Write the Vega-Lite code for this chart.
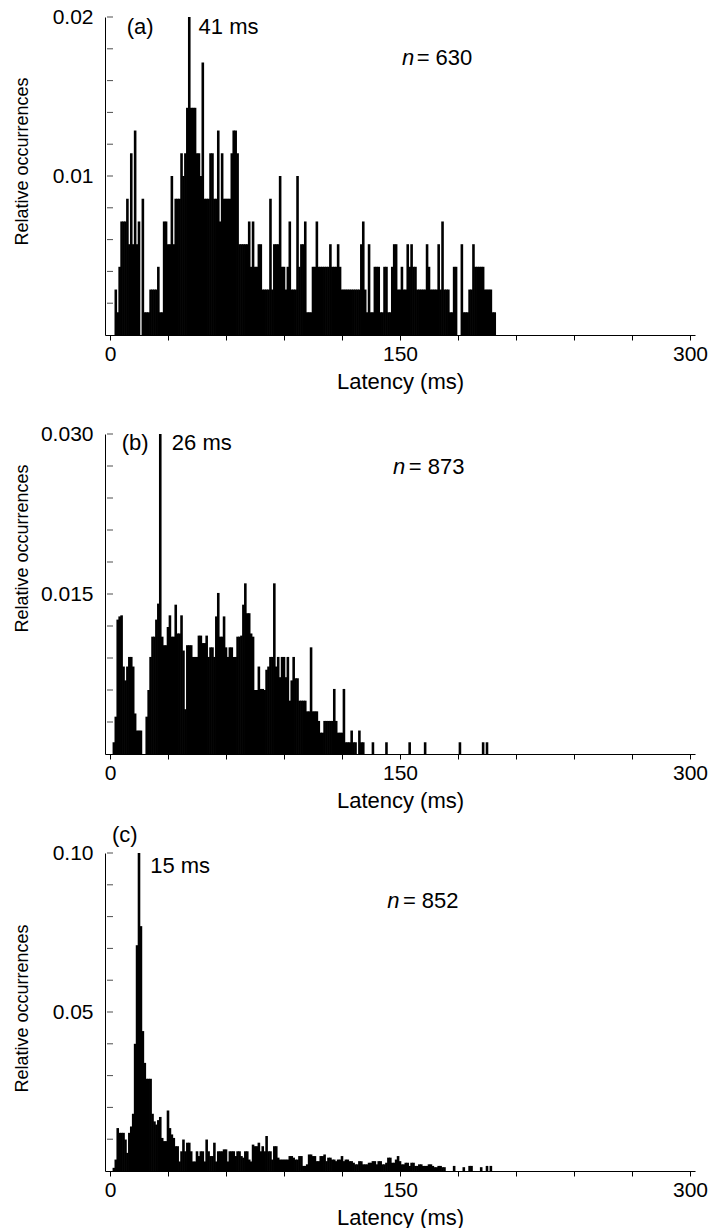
{
"$schema": "https://vega.github.io/schema/vega-lite/v6.json",
"padding": {"left": 13, "top": 6, "right": 0, "bottom": 0},
"background": "white",
"spacing": 99,
"bounds": "flush",
"config": {
  "font": "Liberation Sans",
  "view": {"stroke": null},
  "axis": {"grid": false, "domainColor": "#000", "tickColor": "#000", "labelColor": "#000", "titleColor": "#000", "titleFontWeight": "normal", "labelFontSize": 21, "titleFontSize": 22, "tickSize": 5, "labelOverlap": false, "labelFlush": false, "labelBound": false},
  "axisX": {"labelPadding": 3, "titlePadding": 7},
  "axisY": {"labelPadding": 12, "tickSize": 0, "titleFontSize": 18, "titleX": -92, "titleBaseline": "top", "titleAngle": 270},
  "tick": {"orient": "horizontal", "size": 6, "thickness": 1, "color": "#000"}
},
"vconcat": [
{
  "width": 590, "height": 318,
  "layer": [
    {
      "data": {"values": [
{"x":3,"y":0.00286},{"x":4,"y":0.00143},{"x":5,"y":0.00429},{"x":6,"y":0.00714},{"x":7,"y":0.00714},{"x":8,"y":0.00714},{"x":9,"y":0.00857},{"x":10,"y":0.00571},{"x":11,"y":0.01143},{"x":12,"y":0.00571},{"x":13,"y":0.01286},{"x":14,"y":0.00571},{"x":15,"y":0.00714},{"x":17,"y":0.00857},{"x":18,"y":0.00143},{"x":19,"y":0.00143},{"x":20,"y":0.00143},{"x":21,"y":0.00286},{"x":22,"y":0.00286},{"x":23,"y":0.00286},{"x":24,"y":0.00286},{"x":25,"y":0.00429},{"x":26,"y":0.00143},{"x":27,"y":0.00143},{"x":28,"y":0.00714},{"x":29,"y":0.00714},{"x":30,"y":0.00571},{"x":31,"y":0.00571},{"x":32,"y":0.01},{"x":33,"y":0.00571},{"x":34,"y":0.00857},{"x":35,"y":0.00857},{"x":36,"y":0.00857},{"x":37,"y":0.01143},{"x":38,"y":0.01},{"x":39,"y":0.01143},{"x":40,"y":0.01429},{"x":41,"y":0.02},{"x":42,"y":0.01429},{"x":43,"y":0.01429},{"x":44,"y":0.01429},{"x":45,"y":0.01143},{"x":46,"y":0.01143},{"x":47,"y":0.01},{"x":48,"y":0.01714},{"x":49,"y":0.00857},{"x":50,"y":0.00857},{"x":51,"y":0.00857},{"x":52,"y":0.01143},{"x":53,"y":0.01143},{"x":54,"y":0.00857},{"x":55,"y":0.00857},{"x":56,"y":0.01286},{"x":57,"y":0.00714},{"x":58,"y":0.01143},{"x":59,"y":0.00857},{"x":60,"y":0.00857},{"x":61,"y":0.00857},{"x":62,"y":0.00857},{"x":63,"y":0.01143},{"x":64,"y":0.01286},{"x":65,"y":0.01286},{"x":66,"y":0.01143},{"x":67,"y":0.00571},{"x":68,"y":0.00571},{"x":69,"y":0.00571},{"x":70,"y":0.00571},{"x":71,"y":0.00571},{"x":72,"y":0.00714},{"x":73,"y":0.00429},{"x":74,"y":0.00714},{"x":75,"y":0.00429},{"x":76,"y":0.00429},{"x":77,"y":0.00571},{"x":78,"y":0.00571},{"x":79,"y":0.00286},{"x":80,"y":0.00286},{"x":81,"y":0.00286},{"x":82,"y":0.00286},{"x":83,"y":0.00857},{"x":84,"y":0.00286},{"x":85,"y":0.00571},{"x":86,"y":0.00571},{"x":87,"y":0.00571},{"x":88,"y":0.01},{"x":89,"y":0.00429},{"x":90,"y":0.00429},{"x":91,"y":0.00286},{"x":92,"y":0.00429},{"x":93,"y":0.00714},{"x":94,"y":0.00286},{"x":95,"y":0.00286},{"x":96,"y":0.00286},{"x":97,"y":0.01},{"x":98,"y":0.00429},{"x":99,"y":0.00571},{"x":100,"y":0.00571},{"x":101,"y":0.00714},{"x":102,"y":0.00143},{"x":103,"y":0.00143},{"x":104,"y":0.00143},{"x":105,"y":0.00429},{"x":106,"y":0.00429},{"x":107,"y":0.00714},{"x":108,"y":0.00429},{"x":109,"y":0.00429},{"x":110,"y":0.00429},{"x":111,"y":0.00429},{"x":112,"y":0.00429},{"x":113,"y":0.00429},{"x":114,"y":0.00571},{"x":115,"y":0.00429},{"x":116,"y":0.00429},{"x":117,"y":0.00429},{"x":118,"y":0.00571},{"x":119,"y":0.00429},{"x":120,"y":0.00286},{"x":121,"y":0.00286},{"x":122,"y":0.00286},{"x":123,"y":0.00286},{"x":124,"y":0.00286},{"x":125,"y":0.00286},{"x":126,"y":0.00286},{"x":127,"y":0.00286},{"x":128,"y":0.00286},{"x":129,"y":0.00286},{"x":130,"y":0.00571},{"x":131,"y":0.00714},{"x":132,"y":0.00286},{"x":133,"y":0.00143},{"x":134,"y":0.00571},{"x":135,"y":0.00143},{"x":136,"y":0.00143},{"x":137,"y":0.00429},{"x":138,"y":0.00429},{"x":139,"y":0.00429},{"x":140,"y":0.00143},{"x":141,"y":0.00143},{"x":142,"y":0.00429},{"x":143,"y":0.00429},{"x":144,"y":0.00143},{"x":145,"y":0.00143},{"x":146,"y":0.00429},{"x":147,"y":0.00571},{"x":148,"y":0.00571},{"x":149,"y":0.00286},{"x":150,"y":0.00286},{"x":151,"y":0.00429},{"x":152,"y":0.00286},{"x":153,"y":0.00286},{"x":154,"y":0.00571},{"x":155,"y":0.00429},{"x":156,"y":0.00571},{"x":157,"y":0.00429},{"x":158,"y":0.00429},{"x":159,"y":0.00286},{"x":160,"y":0.00286},{"x":161,"y":0.00286},{"x":162,"y":0.00286},{"x":163,"y":0.00286},{"x":164,"y":0.00571},{"x":165,"y":0.00429},{"x":166,"y":0.00286},{"x":167,"y":0.00286},{"x":168,"y":0.00286},{"x":169,"y":0.00286},{"x":170,"y":0.00571},{"x":171,"y":0.00286},{"x":172,"y":0.00714},{"x":173,"y":0.00286},{"x":174,"y":0.00286},{"x":175,"y":0.00286},{"x":176,"y":0.00143},{"x":177,"y":0.00143},{"x":178,"y":0.00429},{"x":179,"y":0.00429},{"x":182,"y":0.00571},{"x":183,"y":0.00143},{"x":184,"y":0.00143},{"x":185,"y":0.00143},{"x":186,"y":0.00286},{"x":187,"y":0.00286},{"x":188,"y":0.00571},{"x":189,"y":0.00429},{"x":190,"y":0.00429},{"x":191,"y":0.00429},{"x":192,"y":0.00429},{"x":193,"y":0.00429},{"x":194,"y":0.00286},{"x":195,"y":0.00286},{"x":196,"y":0.00286},{"x":197,"y":0.00286},{"x":198,"y":0.00143},{"x":199,"y":0.00143}
      ]},
      "mark": {"type": "bar", "color": "#000", "size": 2.6},
      "encoding": {
        "x": {"field": "x", "type": "quantitative", "scale": {"domain": [0, 300], "nice": false}, "axis": {"title": "Latency (ms)", "values": [0,30,60,90,120,150,180,210,240,270,300], "labelExpr": "datum.value == 0 || datum.value == 150 || datum.value == 300 ? datum.label : ''"}},
        "y": {"field": "y", "type": "quantitative", "scale": {"domain": [0, 0.02], "nice": false}, "axis": {"title": "Relative occurrences", "titleY": 144, "values": [0.01, 0.02], "format": ".2f"}}
      }
    },
    {
      "data": {"values": [{"y":0.002},{"y":0.004},{"y":0.006},{"y":0.008},{"y":0.01},{"y":0.012},{"y":0.014},{"y":0.016},{"y":0.018},{"y":0.02}]},
      "mark": {"type": "tick"},
      "encoding": {"x": {"datum": 0, "type": "quantitative"}, "y": {"field": "y", "type": "quantitative"}}
    },
    {
      "data": {"values": [{"x": 8.6, "y": 0.0194, "t": "(a)"}, {"x": 45.8, "y": 0.0194, "t": "41 ms"}, {"x": 158.6, "y": 0.0174, "t": "= 630"}]},
      "mark": {"type": "text", "fontSize": 22, "align": "left", "baseline": "middle", "color": "#000"},
      "encoding": {"x": {"field": "x", "type": "quantitative"}, "y": {"field": "y", "type": "quantitative"}, "text": {"field": "t"}}
    },
    {
      "data": {"values": [{"x": 151.0, "y": 0.0174, "t": "n"}]},
      "mark": {"type": "text", "fontSize": 22, "fontStyle": "italic", "align": "left", "baseline": "middle", "color": "#000"},
      "encoding": {"x": {"field": "x", "type": "quantitative"}, "y": {"field": "y", "type": "quantitative"}, "text": {"field": "t"}}
    }
  ]
},
{
  "width": 590, "height": 320,
  "layer": [
    {
      "data": {"values": [
{"x":2,"y":0.0011},{"x":3,"y":0.0035},{"x":4,"y":0.0126},{"x":5,"y":0.0129},{"x":6,"y":0.013},{"x":7,"y":0.0082},{"x":8,"y":0.0069},{"x":9,"y":0.0082},{"x":10,"y":0.0091},{"x":11,"y":0.0091},{"x":12,"y":0.0082},{"x":13,"y":0.0038},{"x":14,"y":0.0022},{"x":15,"y":0.0022},{"x":16,"y":0.0022},{"x":19,"y":0.0035},{"x":20,"y":0.006},{"x":21,"y":0.0091},{"x":22,"y":0.011},{"x":23,"y":0.011},{"x":24,"y":0.0126},{"x":25,"y":0.0141},{"x":26,"y":0.03},{"x":27,"y":0.011},{"x":28,"y":0.0102},{"x":29,"y":0.0102},{"x":30,"y":0.0119},{"x":31,"y":0.013},{"x":32,"y":0.011},{"x":33,"y":0.011},{"x":34,"y":0.014},{"x":35,"y":0.0113},{"x":36,"y":0.0113},{"x":37,"y":0.013},{"x":38,"y":0.0097},{"x":39,"y":0.0042},{"x":40,"y":0.0102},{"x":41,"y":0.0102},{"x":42,"y":0.0102},{"x":43,"y":0.0091},{"x":44,"y":0.0091},{"x":45,"y":0.0091},{"x":46,"y":0.0111},{"x":47,"y":0.0111},{"x":48,"y":0.0104},{"x":49,"y":0.0104},{"x":50,"y":0.0111},{"x":51,"y":0.0091},{"x":52,"y":0.01},{"x":53,"y":0.01},{"x":54,"y":0.0091},{"x":55,"y":0.0129},{"x":56,"y":0.0151},{"x":57,"y":0.011},{"x":58,"y":0.011},{"x":59,"y":0.0129},{"x":60,"y":0.01},{"x":61,"y":0.0091},{"x":62,"y":0.01},{"x":63,"y":0.01},{"x":64,"y":0.0091},{"x":65,"y":0.0091},{"x":66,"y":0.011},{"x":67,"y":0.011},{"x":68,"y":0.0111},{"x":69,"y":0.014},{"x":70,"y":0.016},{"x":71,"y":0.0132},{"x":72,"y":0.0132},{"x":73,"y":0.0113},{"x":74,"y":0.011},{"x":75,"y":0.006},{"x":76,"y":0.006},{"x":77,"y":0.0082},{"x":78,"y":0.0061},{"x":79,"y":0.0061},{"x":80,"y":0.006},{"x":81,"y":0.0079},{"x":82,"y":0.0082},{"x":83,"y":0.0091},{"x":84,"y":0.0091},{"x":85,"y":0.016},{"x":86,"y":0.0082},{"x":87,"y":0.0091},{"x":88,"y":0.0072},{"x":89,"y":0.0091},{"x":90,"y":0.0091},{"x":91,"y":0.0072},{"x":92,"y":0.0091},{"x":93,"y":0.005},{"x":94,"y":0.0069},{"x":95,"y":0.0091},{"x":96,"y":0.0071},{"x":97,"y":0.0071},{"x":98,"y":0.005},{"x":99,"y":0.005},{"x":100,"y":0.005},{"x":101,"y":0.005},{"x":102,"y":0.004},{"x":103,"y":0.004},{"x":104,"y":0.01},{"x":105,"y":0.004},{"x":106,"y":0.004},{"x":107,"y":0.004},{"x":108,"y":0.0031},{"x":109,"y":0.002},{"x":110,"y":0.002},{"x":111,"y":0.0031},{"x":112,"y":0.0031},{"x":113,"y":0.0031},{"x":114,"y":0.0031},{"x":115,"y":0.0031},{"x":116,"y":0.0061},{"x":117,"y":0.0031},{"x":118,"y":0.002},{"x":119,"y":0.002},{"x":120,"y":0.002},{"x":121,"y":0.0061},{"x":122,"y":0.0011},{"x":123,"y":0.0011},{"x":124,"y":0.0011},{"x":125,"y":0.0022},{"x":126,"y":0.0011},{"x":127,"y":0.0011},{"x":129,"y":0.0022},{"x":130,"y":0.0011},{"x":131,"y":0.0011},{"x":136,"y":0.0011},{"x":143,"y":0.0011},{"x":155,"y":0.0011},{"x":163,"y":0.0011},{"x":181,"y":0.0011},{"x":193,"y":0.0011},{"x":195,"y":0.0011}
      ]},
      "mark": {"type": "bar", "color": "#000", "size": 2.6},
      "encoding": {
        "x": {"field": "x", "type": "quantitative", "scale": {"domain": [0, 300], "nice": false}, "axis": {"title": "Latency (ms)", "values": [0,30,60,90,120,150,180,210,240,270,300], "labelExpr": "datum.value == 0 || datum.value == 150 || datum.value == 300 ? datum.label : ''"}},
        "y": {"field": "y", "type": "quantitative", "scale": {"domain": [0, 0.03], "nice": false}, "axis": {"title": "Relative occurrences", "titleY": 114, "values": [0.015, 0.03], "format": ".3f"}}
      }
    },
    {
      "data": {"values": [{"y":0.003},{"y":0.006},{"y":0.009},{"y":0.012},{"y":0.015},{"y":0.018},{"y":0.021},{"y":0.024},{"y":0.027},{"y":0.03}]},
      "mark": {"type": "tick"},
      "encoding": {"x": {"datum": 0, "type": "quantitative"}, "y": {"field": "y", "type": "quantitative"}}
    },
    {
      "data": {"values": [{"x": 6.1, "y": 0.0292, "t": "(b)"}, {"x": 32.0, "y": 0.0292, "t": "26 ms"}, {"x": 154.5, "y": 0.0269, "t": "= 873"}]},
      "mark": {"type": "text", "fontSize": 22, "align": "left", "baseline": "middle", "color": "#000"},
      "encoding": {"x": {"field": "x", "type": "quantitative"}, "y": {"field": "y", "type": "quantitative"}, "text": {"field": "t"}}
    },
    {
      "data": {"values": [{"x": 146.4, "y": 0.0269, "t": "n"}]},
      "mark": {"type": "text", "fontSize": 22, "fontStyle": "italic", "align": "left", "baseline": "middle", "color": "#000"},
      "encoding": {"x": {"field": "x", "type": "quantitative"}, "y": {"field": "y", "type": "quantitative"}, "text": {"field": "t"}}
    }
  ]
},
{
  "width": 590, "height": 318,
  "layer": [
    {
      "data": {"values": [
{"x":2,"y":0.001},{"x":3,"y":0.0036},{"x":4,"y":0.0135},{"x":5,"y":0.012},{"x":6,"y":0.012},{"x":7,"y":0.012},{"x":8,"y":0.0099},{"x":9,"y":0.0057},{"x":10,"y":0.012},{"x":11,"y":0.014},{"x":12,"y":0.018},{"x":13,"y":0.04},{"x":14,"y":0.071},{"x":15,"y":0.1},{"x":16,"y":0.077},{"x":17,"y":0.044},{"x":18,"y":0.034},{"x":19,"y":0.029},{"x":20,"y":0.029},{"x":21,"y":0.029},{"x":22,"y":0.018},{"x":23,"y":0.0156},{"x":24,"y":0.0146},{"x":25,"y":0.016},{"x":26,"y":0.017},{"x":27,"y":0.0104},{"x":28,"y":0.0094},{"x":29,"y":0.0094},{"x":30,"y":0.019},{"x":31,"y":0.0135},{"x":32,"y":0.0115},{"x":33,"y":0.0104},{"x":34,"y":0.0078},{"x":35,"y":0.0078},{"x":36,"y":0.003},{"x":37,"y":0.0062},{"x":38,"y":0.0099},{"x":39,"y":0.0062},{"x":40,"y":0.0089},{"x":41,"y":0.0089},{"x":42,"y":0.0062},{"x":43,"y":0.003},{"x":44,"y":0.003},{"x":45,"y":0.0062},{"x":46,"y":0.0047},{"x":47,"y":0.0062},{"x":48,"y":0.0062},{"x":49,"y":0.003},{"x":50,"y":0.0099},{"x":51,"y":0.0062},{"x":52,"y":0.0047},{"x":53,"y":0.0047},{"x":54,"y":0.0089},{"x":55,"y":0.003},{"x":56,"y":0.0062},{"x":57,"y":0.0062},{"x":58,"y":0.0062},{"x":59,"y":0.0068},{"x":60,"y":0.0068},{"x":61,"y":0.003},{"x":62,"y":0.0062},{"x":63,"y":0.0062},{"x":64,"y":0.0062},{"x":65,"y":0.0047},{"x":66,"y":0.0062},{"x":67,"y":0.0062},{"x":68,"y":0.0047},{"x":69,"y":0.0042},{"x":70,"y":0.0062},{"x":71,"y":0.0062},{"x":72,"y":0.0036},{"x":73,"y":0.003},{"x":74,"y":0.0083},{"x":75,"y":0.0078},{"x":76,"y":0.0078},{"x":77,"y":0.0089},{"x":78,"y":0.0062},{"x":79,"y":0.0078},{"x":80,"y":0.0062},{"x":81,"y":0.011},{"x":82,"y":0.0062},{"x":83,"y":0.0062},{"x":84,"y":0.0036},{"x":85,"y":0.0078},{"x":86,"y":0.0078},{"x":87,"y":0.0042},{"x":88,"y":0.0036},{"x":89,"y":0.0036},{"x":90,"y":0.0036},{"x":91,"y":0.0036},{"x":92,"y":0.0036},{"x":93,"y":0.0047},{"x":94,"y":0.0047},{"x":95,"y":0.0042},{"x":96,"y":0.0036},{"x":97,"y":0.0036},{"x":98,"y":0.0047},{"x":99,"y":0.0047},{"x":100,"y":0.0016},{"x":101,"y":0.0016},{"x":102,"y":0.0021},{"x":103,"y":0.0052},{"x":104,"y":0.0052},{"x":105,"y":0.0047},{"x":106,"y":0.0047},{"x":107,"y":0.0031},{"x":108,"y":0.0031},{"x":109,"y":0.0047},{"x":110,"y":0.0047},{"x":111,"y":0.0052},{"x":112,"y":0.0031},{"x":113,"y":0.0042},{"x":114,"y":0.0042},{"x":115,"y":0.0036},{"x":116,"y":0.0036},{"x":117,"y":0.0031},{"x":118,"y":0.0036},{"x":119,"y":0.0036},{"x":120,"y":0.0047},{"x":121,"y":0.0031},{"x":122,"y":0.0036},{"x":123,"y":0.0036},{"x":124,"y":0.0031},{"x":125,"y":0.0031},{"x":126,"y":0.0026},{"x":127,"y":0.0021},{"x":128,"y":0.0021},{"x":129,"y":0.0031},{"x":130,"y":0.0031},{"x":131,"y":0.0021},{"x":132,"y":0.0021},{"x":133,"y":0.0021},{"x":134,"y":0.0026},{"x":135,"y":0.0026},{"x":136,"y":0.0031},{"x":137,"y":0.0031},{"x":138,"y":0.0021},{"x":139,"y":0.0031},{"x":140,"y":0.0031},{"x":141,"y":0.0021},{"x":142,"y":0.0021},{"x":143,"y":0.0026},{"x":144,"y":0.0042},{"x":145,"y":0.0042},{"x":146,"y":0.0026},{"x":147,"y":0.0026},{"x":148,"y":0.0036},{"x":149,"y":0.0047},{"x":150,"y":0.0031},{"x":151,"y":0.0021},{"x":152,"y":0.0021},{"x":153,"y":0.0026},{"x":154,"y":0.0026},{"x":155,"y":0.0016},{"x":156,"y":0.0026},{"x":157,"y":0.0026},{"x":158,"y":0.0016},{"x":159,"y":0.0016},{"x":160,"y":0.0021},{"x":161,"y":0.0021},{"x":162,"y":0.0016},{"x":163,"y":0.0016},{"x":164,"y":0.0016},{"x":165,"y":0.0021},{"x":166,"y":0.0021},{"x":167,"y":0.0016},{"x":168,"y":0.0012},{"x":169,"y":0.0012},{"x":170,"y":0.0016},{"x":171,"y":0.0016},{"x":172,"y":0.0012},{"x":173,"y":0.0012},{"x":178,"y":0.0016},{"x":183,"y":0.0012},{"x":186,"y":0.0016},{"x":187,"y":0.0016},{"x":192,"y":0.0012},{"x":195,"y":0.0016},{"x":197,"y":0.0016}
      ]},
      "mark": {"type": "bar", "color": "#000", "size": 2.6},
      "encoding": {
        "x": {"field": "x", "type": "quantitative", "scale": {"domain": [0, 300], "nice": false}, "axis": {"title": "Latency (ms)", "values": [0,30,60,90,120,150,180,210,240,270,300], "labelExpr": "datum.value == 0 || datum.value == 150 || datum.value == 300 ? datum.label : ''"}},
        "y": {"field": "y", "type": "quantitative", "scale": {"domain": [0, 0.1], "nice": false}, "axis": {"title": "Relative occurrences", "titleY": 155, "values": [0.05, 0.1], "format": ".2f"}}
      }
    },
    {
      "data": {"values": [{"y":0.01},{"y":0.02},{"y":0.03},{"y":0.04},{"y":0.05},{"y":0.06},{"y":0.07},{"y":0.08},{"y":0.09},{"y":0.1}]},
      "mark": {"type": "tick"},
      "encoding": {"x": {"datum": 0, "type": "quantitative"}, "y": {"field": "y", "type": "quantitative"}}
    },
    {
      "data": {"values": [{"x": 1.0, "y": 0.1056, "t": "(c)"}, {"x": 20.8, "y": 0.0959, "t": "15 ms"}, {"x": 151.5, "y": 0.085, "t": "= 852"}]},
      "mark": {"type": "text", "fontSize": 22, "align": "left", "baseline": "middle", "color": "#000"},
      "encoding": {"x": {"field": "x", "type": "quantitative"}, "y": {"field": "y", "type": "quantitative"}, "text": {"field": "t"}}
    },
    {
      "data": {"values": [{"x": 143.4, "y": 0.085, "t": "n"}]},
      "mark": {"type": "text", "fontSize": 22, "fontStyle": "italic", "align": "left", "baseline": "middle", "color": "#000"},
      "encoding": {"x": {"field": "x", "type": "quantitative"}, "y": {"field": "y", "type": "quantitative"}, "text": {"field": "t"}}
    }
  ]
}
]
}
